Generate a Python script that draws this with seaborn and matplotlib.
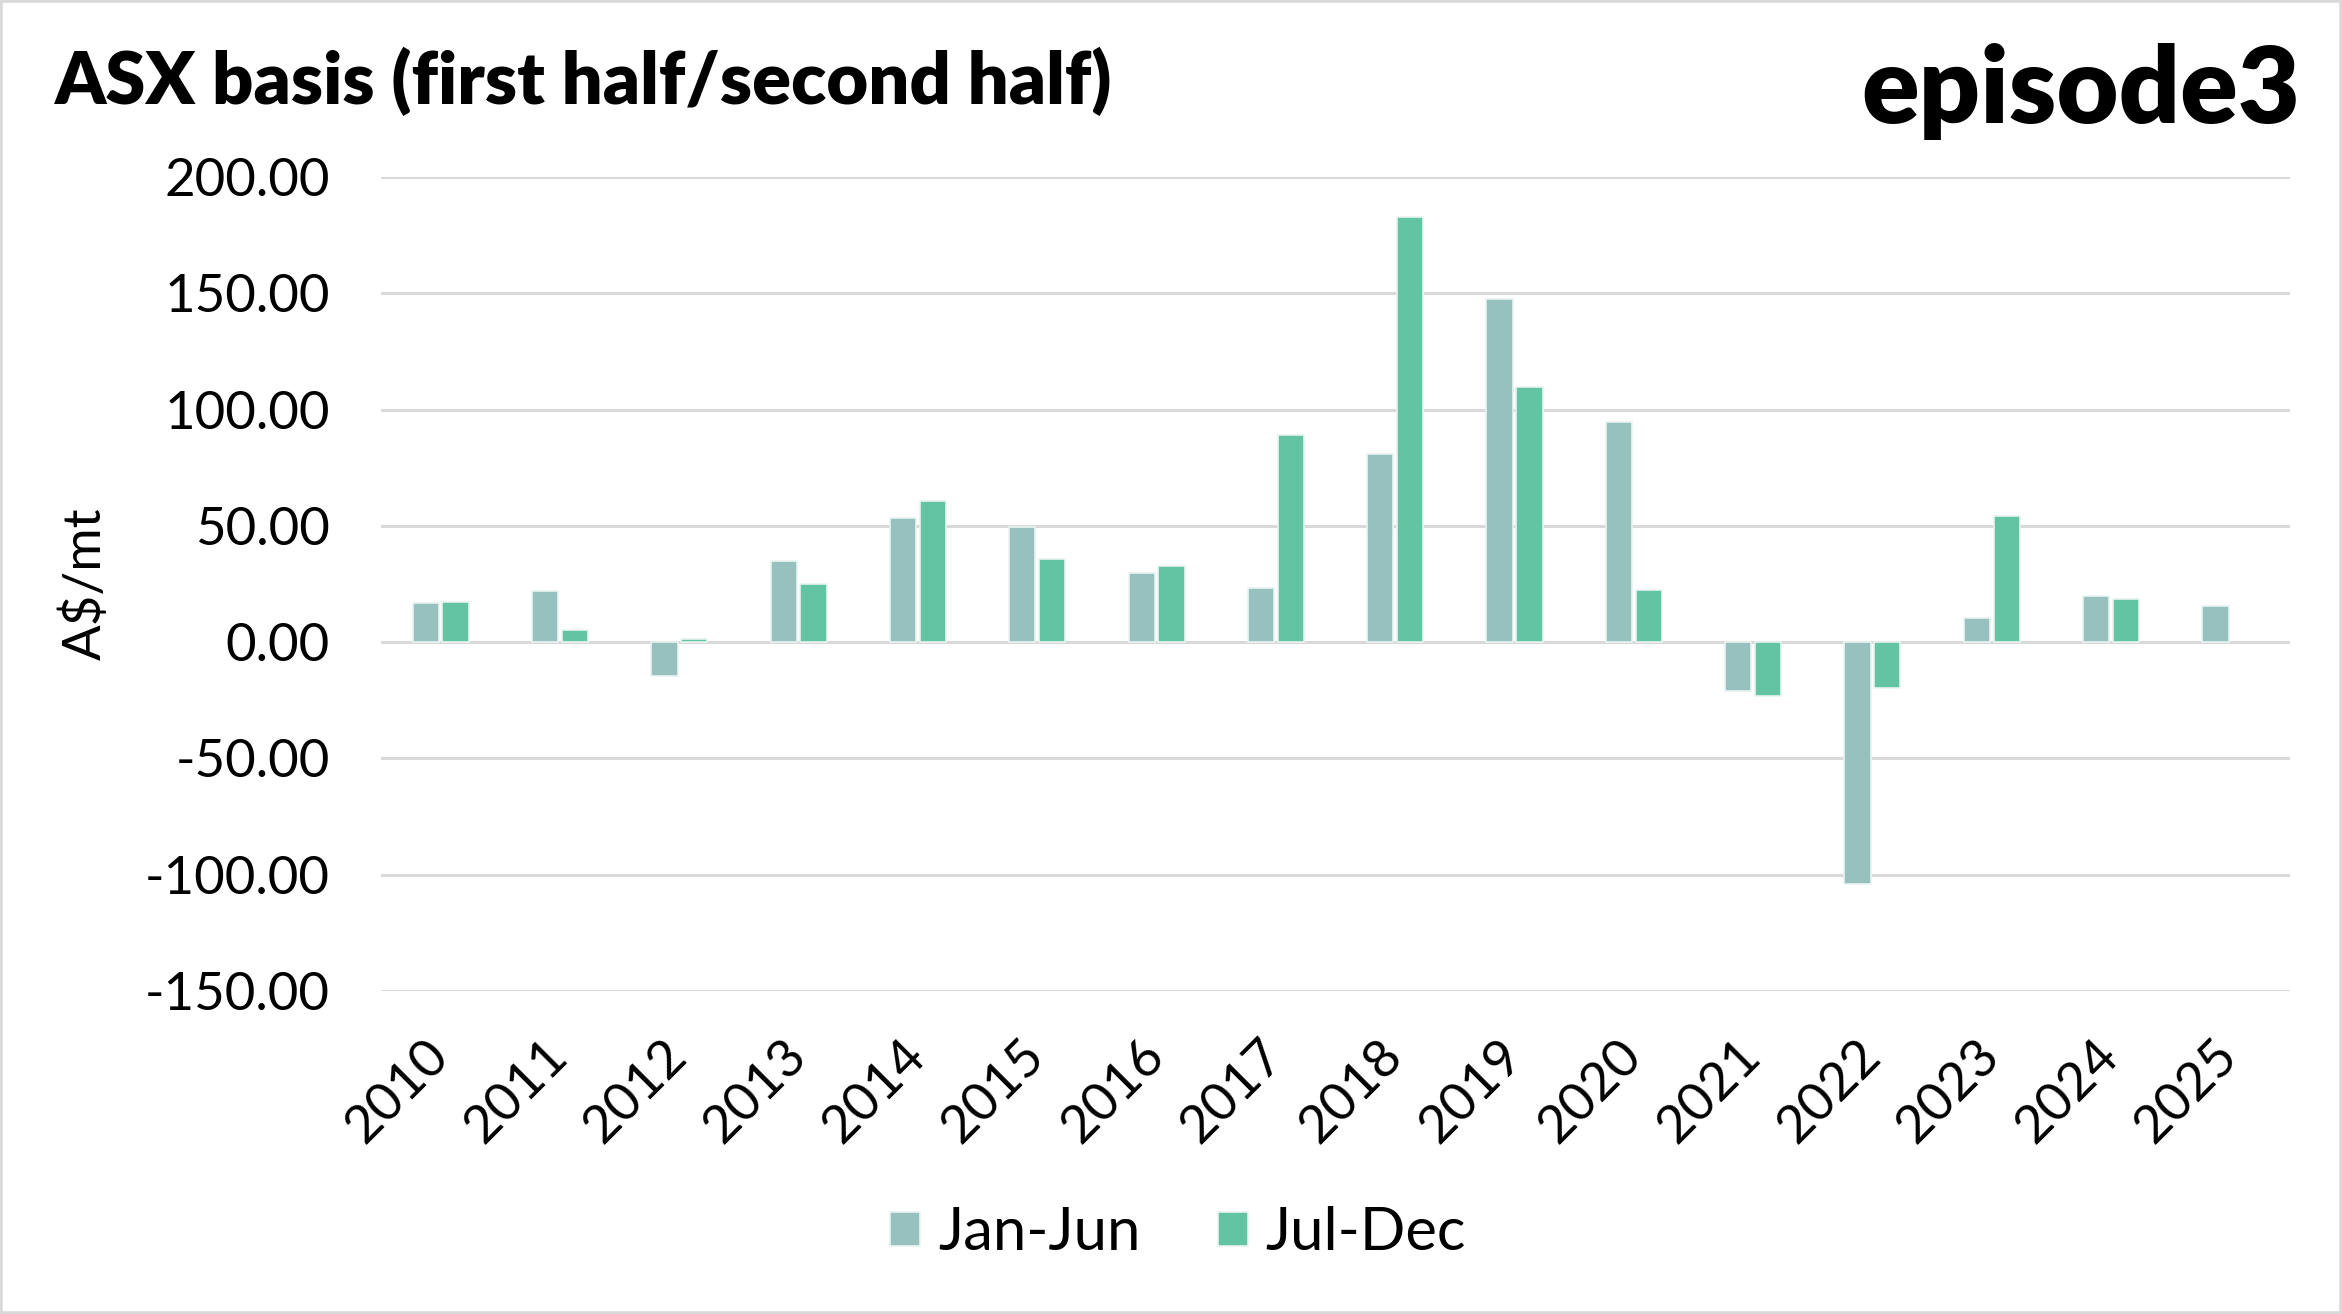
import seaborn as sns
import matplotlib.pyplot as plt
import matplotlib.ticker as mticker
from matplotlib.patches import Rectangle
import pandas as pd

years = [str(y) for y in range(2010, 2026)]
jan_jun = [16.8, 22.1, -14.5, 34.9, 53.4, 49.6, 29.7, 23.3, 80.8, 147.5,
           94.7, -21.2, -104.0, 10.4, 19.8, 15.6]
jul_dec = [17.2, 5.3, 1.4, 25.1, 60.8, 35.8, 32.8, 89.0, 182.8, 109.7,
           22.5, -23.0, -19.7, 54.3, 18.6]
periods = ['Jan-Jun', 'Jul-Dec']
colors = ['#97c1bf', '#63c4a4']

rows = [(y, 'Jan-Jun', v) for y, v in zip(years, jan_jun)]
rows += [(y, 'Jul-Dec', v) for y, v in zip(years, jul_dec)]
df = pd.DataFrame(rows, columns=['Year', 'Period', 'Basis'])

sns.set_style('white')
plt.rcParams['font.family'] = ['Lato', 'DejaVu Sans']
plt.rcParams['text.color'] = 'black'
plt.rcParams['axes.labelcolor'] = 'black'
plt.rcParams['xtick.color'] = 'black'
plt.rcParams['ytick.color'] = 'black'

fig = plt.figure(figsize=(23.42, 13.14), dpi=100)
ax = fig.add_axes([0.1627, 0.2458, 0.8151, 0.6195])

sns.barplot(data=df, x='Year', y='Basis', hue='Period', order=years,
            hue_order=periods, palette=colors, saturation=1, width=0.5,
            gap=0.12, edgecolor='#e8f4f1', linewidth=1.2, errorbar=None, ax=ax)

ax.set_ylim(-150, 200)
ax.set_yticks(range(-150, 201, 50))
ax.yaxis.set_major_formatter(mticker.FuncFormatter(lambda v, p: f'{v:.2f}'))
ax.yaxis.grid(True, color='#d9d9d9', linewidth=2.2)
ax.set_axisbelow(True)
for s in ax.spines.values():
    s.set_visible(False)

ax.tick_params(axis='y', length=0, pad=37, labelsize=38)
ax.tick_params(axis='x', length=0, pad=41, labelsize=38)
for lbl in ax.get_xticklabels():
    lbl.set_rotation(45)
    lbl.set_ha('right')
    lbl.set_va('center')
    lbl.set_rotation_mode('anchor')

ax.set_xlabel('')
ax.set_ylabel('A$/mt', fontsize=38)
ax.yaxis.set_label_coords(-0.142, 0.5)

handles, labels = ax.get_legend_handles_labels()
ax.get_legend().remove()
fig.legend(handles, labels, loc='center', bbox_to_anchor=(0.503, 0.0616),
           ncol=2, frameon=False, fontsize=43, handlelength=0.5,
           handleheight=0.5, handletextpad=0.3, columnspacing=1.3)

fig.text(55 / 2342, 1 - 104 / 1314, 'ASX basis (first half/second half)',
         fontsize=52, fontweight='heavy', ha='left', va='baseline')
fig.text(2300 / 2342, 1 - 123 / 1314, 'episode3', fontsize=77,
         fontweight='heavy', ha='right', va='baseline')

fig.patches.append(Rectangle((0, 0), 1, 1, transform=fig.transFigure,
                             fill=False, edgecolor='#d9d9d9', linewidth=4))

plt.savefig('out.png', dpi=100)
